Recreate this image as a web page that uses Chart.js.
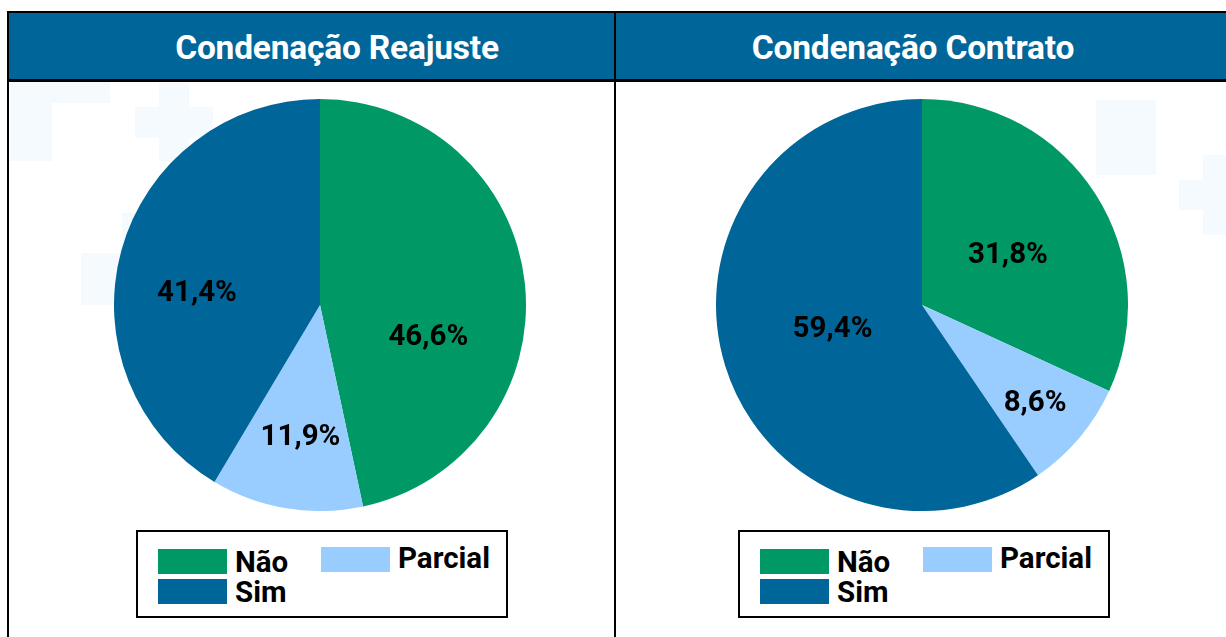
<!DOCTYPE html>
<html>
<head>
<meta charset="utf-8">
<script src="https://cdn.jsdelivr.net/npm/chart.js@4"></script>
<style>
    body { margin: 0; width: 1226px; height: 637px; background: #fff; overflow: hidden; position: relative; font-family: Roboto, "Noto Sans", sans-serif; }
    .deco { position: absolute; background: #f5faff; }
    .panel { position: absolute; top: 11px; height: 640px; border-left: 2px solid #000; }
    .header { position: absolute; left: 0; right: 0; top: 0; height: 66px; background: #006699; border-top: 2px solid #000; border-bottom: 3px solid #000; }
    .header span { position: absolute; top: 50%; transform: translate(-50%, -47%); white-space: nowrap;
                   color: #fff; font-weight: 700; font-size: 33.5px; letter-spacing: -0.2px; }
    .chartBox { position: absolute; top: 99px; width: 412px; height: 412px; }
    .legend { position: absolute; top: 530px; width: 372px; height: 88px; border: 2px solid #000; background: #fff;
              display: grid; grid-template-columns: 163px auto; grid-auto-rows: 30px; padding: 17px 0 0 20px; box-sizing: border-box; }
    .legend .item { display: flex; align-items: flex-start; font-weight: 700; font-size: 29.5px; color: #000; line-height: 26px; }
    .legend .sw { width: 69px; height: 25px; margin-right: 8px; flex: none; }
</style>
</head>
<body>
<!-- faint background shapes -->
<div class="deco" style="left:10px;top:80px;width:42px;height:81px"></div>
<div class="deco" style="left:52px;top:80px;width:58px;height:23px"></div>
<div class="deco" style="left:159px;top:83px;width:30px;height:78px"></div>
<div class="deco" style="left:135px;top:107px;width:78px;height:31px"></div>
<div class="deco" style="left:81px;top:253px;width:40px;height:52px"></div>
<div class="deco" style="left:122px;top:213px;width:14px;height:40px"></div>
<div class="deco" style="left:1096px;top:100px;width:60px;height:75px"></div>
<div class="deco" style="left:1203px;top:155px;width:23px;height:80px"></div>
<div class="deco" style="left:1179px;top:180px;width:47px;height:30px"></div>

<div class="panel" style="left:7px;width:607px">
    <div class="header"><span style="left:328px">Condenação Reajuste</span></div>
</div>
<div class="panel" style="left:614px;width:620px">
    <div class="header"><span style="left:297px">Condenação Contrato</span></div>
</div>

<div class="chartBox" style="left:114px"><canvas id="pieReajuste"></canvas></div>
<div class="chartBox" style="left:716px"><canvas id="pieContrato"></canvas></div>

<div class="legend" id="legendReajuste" style="left:136px"></div>
<div class="legend" id="legendContrato" style="left:738px"></div>

<script>
// ------------------ DATA ------------------
const categories = ["Não", "Parcial", "Sim"];
const reajusteValues = [46.6, 11.9, 41.4];
const contratoValues = [31.8, 8.6, 59.4];
const sliceColors = ["#009966", "#99ccff", "#006699"];

// ------------------ LABEL PLUGIN ------------------
// labels sit on the slice's mid-angle; frac = share of radius, shift = degrees nudged
const sliceLabels = {
    id: 'sliceLabels',
    afterDatasetsDraw(chart, args, opts) {
        const ctx = chart.ctx;
        const meta = chart.getDatasetMeta(0);
        const values = chart.data.datasets[0].data;
        ctx.save();
        ctx.font = '700 29.5px Roboto';
        ctx.fillStyle = '#000';
        ctx.textAlign = 'center';
        ctx.textBaseline = 'middle';
        meta.data.forEach((arc, i) => {
            const p = arc.getProps(['x', 'y', 'startAngle', 'endAngle', 'outerRadius'], true);
            const mid = (p.startAngle + p.endAngle) / 2 + (opts.shift[i] || 0) * Math.PI / 180;
            const frac = opts.frac[i];
            const x = p.x + Math.cos(mid) * p.outerRadius * frac;
            const y = p.y + Math.sin(mid) * p.outerRadius * frac;
            ctx.fillText(values[i].toFixed(1).replace('.', ',') + '%', x, y);
        });
        ctx.restore();
    }
};

// ------------------ CHARTS ------------------
function makePie(id, values, labelOpts) {
    const ctx = document.getElementById(id).getContext('2d');
    return new Chart(ctx, {
        type: 'pie',
        data: {
            labels: categories,
            datasets: [{
                data: values,
                backgroundColor: sliceColors,
                borderWidth: 0,
            }],
        },
        options: {
            responsive: true,
            maintainAspectRatio: false,
            animation: false,
            layout: { padding: 0 },
            plugins: {
                legend: { display: false },
                tooltip: { enabled: false },
                sliceLabels: labelOpts,
            },
        },
        plugins: [sliceLabels],
    });
}

function makeLegend(id) {
    const box = document.getElementById(id);
    categories.forEach((name, i) => {
        const item = document.createElement('div');
        item.className = 'item';
        const swTop = i === 1 ? -2 : 0;
        const txtTop = i === 1 ? -4 : 0;
        item.innerHTML = `<span class="sw" style="background:${sliceColors[i]};margin-top:${swTop}px"></span>` +
                         `<span style="position:relative;top:${txtTop}px">${name}</span>`;
        box.appendChild(item);
    });
}

document.addEventListener('DOMContentLoaded', () => {
    makePie('pieReajuste', reajusteValues, { frac: [0.55, 0.65, 0.6], shift: [23, -1, -10] });
    makePie('pieContrato', contratoValues, { frac: [0.48, 0.73, 0.45], shift: [3, 1, 2] });
    makeLegend('legendReajuste');
    makeLegend('legendContrato');
});
</script>
</body>
</html>
